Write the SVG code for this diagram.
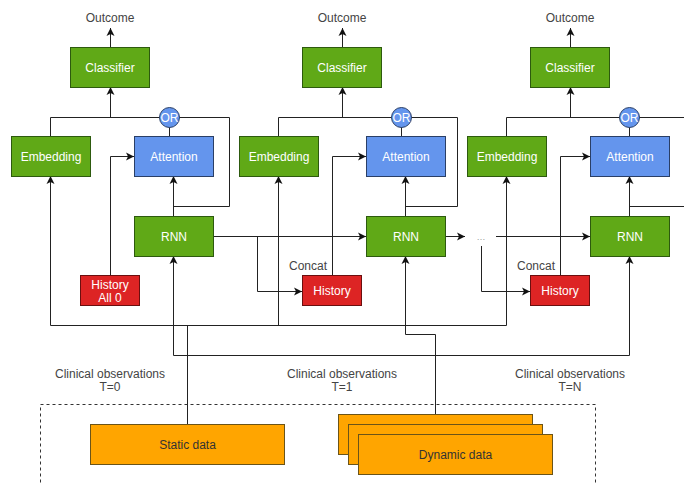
<svg xmlns="http://www.w3.org/2000/svg" width="684" height="483" viewBox="0 0 684 483">
  <style>
    text { font-family: "Liberation Sans", Arial, Helvetica, sans-serif; font-size: 12px; text-anchor: middle; }
    .green { fill: #60a917; stroke: #2d5a0e; stroke-width: 1; }
    .blue { fill: #6495ed; stroke: #2a3f66; stroke-width: 1; }
    .red { fill: #dd2424; stroke: #6b0f0f; stroke-width: 1; }
    .orange { fill: #ffa500; stroke: #6b5418; stroke-width: 1; }
    .wt { fill: #ffffff; }
    .dk { fill: #333333; }
    .lbl { fill: #444444; }
    .wire { fill: none; stroke: #222222; stroke-width: 1; }
    .arr { marker-end: url(#ah); }
    .dash { fill: none; stroke: #333333; stroke-width: 1; stroke-dasharray: 3 3; }
  </style>
  <defs>
    <marker id="ah" markerUnits="userSpaceOnUse" markerWidth="10" markerHeight="10" viewBox="0 0 10 10" refX="9" refY="5" orient="auto">
      <path d="M1,1 L9,5 L1,9 L3,5 Z" fill="#111111"/>
    </marker>
  </defs>

  <rect width="684" height="483" fill="#ffffff"/>

  <!-- connectors -->
  <g id="connectors">
    <!-- step 0 -->
    <path class="wire arr" d="M110.5,47 V28"/>
    <path class="wire arr" d="M110.5,117.5 V87"/>
    <path class="wire" d="M50.5,136 V117.5 H229.5 V206.5 H173.5"/>
    <path class="wire" d="M169.5,127 V136"/>
    <path class="wire arr" d="M173.5,216 V176"/>
    <path class="wire arr" d="M110.5,275 V156.5 H134"/>
    <path class="wire arr" d="M50.5,325.5 V176"/>
    <path class="wire arr" d="M173.5,355.5 V256"/>
    <path class="wire arr" d="M213,236.5 H366"/>
    <path class="wire arr" d="M257.5,236.5 V291.5 H302"/>

    <!-- step 1 -->
    <path class="wire arr" d="M342.5,47 V28"/>
    <path class="wire arr" d="M342.5,117.5 V87"/>
    <path class="wire" d="M278.5,136 V117.5 H457.5 V206.5 H405.5"/>
    <path class="wire" d="M401.5,127 V136"/>
    <path class="wire arr" d="M405.5,216 V176"/>
    <path class="wire arr" d="M332.5,275 V156.5 H366"/>
    <path class="wire arr" d="M278.5,325.5 V176"/>
    <path class="wire arr" d="M435.5,414 V334.5 H405.5 V256"/>
    <path class="wire arr" d="M445,236.5 H465"/>
    <path class="wire arr" d="M496,236.5 H590"/>
    <path class="wire arr" d="M481.5,246 V291.5 H530"/>

    <!-- step N -->
    <path class="wire arr" d="M570.5,47 V28"/>
    <path class="wire arr" d="M570.5,117.5 V87"/>
    <path class="wire" d="M506.5,136 V117.5 H684"/>
    <path class="wire" d="M629.5,127 V136"/>
    <path class="wire arr" d="M629.5,216 V176"/>
    <path class="wire" d="M629.5,206.5 H684"/>
    <path class="wire arr" d="M560.5,275 V156.5 H590"/>
    <path class="wire arr" d="M506.5,325.5 V176"/>
    <path class="wire arr" d="M629.5,355.5 V256"/>

    <!-- input buses -->
    <path class="wire" d="M50.5,325.5 H506.5"/>
    <path class="wire" d="M173.5,355.5 H629.5"/>
    <path class="wire" d="M187.5,325.5 V424"/>
  </g>

  <!-- labels -->
  <g id="labels">
    <text class="lbl" x="110" y="22">Outcome</text>
    <text class="lbl" x="342" y="22">Outcome</text>
    <text class="lbl" x="570" y="22">Outcome</text>
    <text class="lbl" x="308" y="270">Concat</text>
    <text class="lbl" x="536" y="270">Concat</text>
    <text class="lbl" x="481" y="240" style="fill:#999999;font-size:9px">…</text>
    <text class="lbl" x="110" y="378">Clinical observations</text>
    <text class="lbl" x="110" y="391">T=0</text>
    <text class="lbl" x="342" y="378">Clinical observations</text>
    <text class="lbl" x="342" y="391">T=1</text>
    <text class="lbl" x="570" y="378">Clinical observations</text>
    <text class="lbl" x="570" y="391">T=N</text>
  </g>

  <!-- step 0 nodes -->
  <g id="classifier0"><rect class="green" x="70.5" y="47.5" width="79" height="40"/><text class="wt" x="110" y="71.5">Classifier</text></g>
  <g id="or0"><circle class="blue" cx="169.5" cy="117.5" r="10"/><text class="wt" x="169.5" y="121.5">OR</text></g>
  <g id="embedding0"><rect class="green" x="11.5" y="136.5" width="79" height="40"/><text class="wt" x="51" y="160.5">Embedding</text></g>
  <g id="attention0"><rect class="blue" x="134.5" y="136.5" width="79" height="40"/><text class="wt" x="174" y="160.5">Attention</text></g>
  <g id="rnn0"><rect class="green" x="134.5" y="216.5" width="79" height="40"/><text class="wt" x="174" y="240.5">RNN</text></g>
  <g id="history0"><rect class="red" x="80.5" y="275.5" width="59" height="30"/><text class="wt" x="110" y="289">History</text><text class="wt" x="110" y="302">All 0</text></g>

  <!-- step 1 nodes -->
  <g id="classifier1"><rect class="green" x="302.5" y="47.5" width="79" height="40"/><text class="wt" x="342" y="71.5">Classifier</text></g>
  <g id="or1"><circle class="blue" cx="401.5" cy="117.5" r="10"/><text class="wt" x="401.5" y="121.5">OR</text></g>
  <g id="embedding1"><rect class="green" x="239.5" y="136.5" width="79" height="40"/><text class="wt" x="279" y="160.5">Embedding</text></g>
  <g id="attention1"><rect class="blue" x="366.5" y="136.5" width="79" height="40"/><text class="wt" x="406" y="160.5">Attention</text></g>
  <g id="rnn1"><rect class="green" x="366.5" y="216.5" width="79" height="40"/><text class="wt" x="406" y="240.5">RNN</text></g>
  <g id="history1"><rect class="red" x="302.5" y="275.5" width="59" height="30"/><text class="wt" x="332" y="295">History</text></g>

  <!-- step N nodes -->
  <g id="classifierN"><rect class="green" x="530.5" y="47.5" width="79" height="40"/><text class="wt" x="570" y="71.5">Classifier</text></g>
  <g id="orN"><circle class="blue" cx="629.5" cy="117.5" r="10"/><text class="wt" x="629.5" y="121.5">OR</text></g>
  <g id="embeddingN"><rect class="green" x="467.5" y="136.5" width="79" height="40"/><text class="wt" x="507" y="160.5">Embedding</text></g>
  <g id="attentionN"><rect class="blue" x="590.5" y="136.5" width="79" height="40"/><text class="wt" x="630" y="160.5">Attention</text></g>
  <g id="rnnN"><rect class="green" x="590.5" y="216.5" width="79" height="40"/><text class="wt" x="630" y="240.5">RNN</text></g>
  <g id="historyN"><rect class="red" x="530.5" y="275.5" width="59" height="30"/><text class="wt" x="560" y="295">History</text></g>

  <!-- data sources -->
  <g id="sources">
    <rect class="dash" x="40.5" y="404.5" width="555" height="90"/>
  </g>
  <g id="static-data"><rect class="orange" x="90.5" y="424.5" width="194" height="40"/><text class="dk" x="187.5" y="448.5">Static data</text></g>
  <g id="dynamic-data">
    <rect class="orange" x="338.5" y="414.5" width="194" height="40"/>
    <rect class="orange" x="348.5" y="424.5" width="194" height="40"/>
    <rect class="orange" x="358.5" y="434.5" width="194" height="40"/>
    <text class="dk" x="455.5" y="458.5">Dynamic data</text>
  </g>
</svg>
